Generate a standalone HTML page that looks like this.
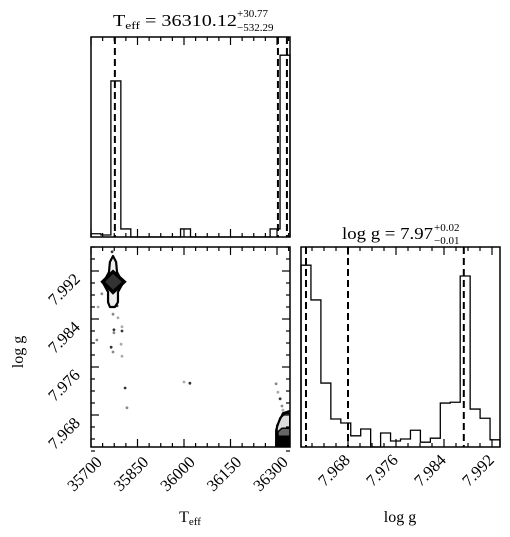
<!DOCTYPE html>
<html><head><meta charset="utf-8"><style>
html,body{margin:0;padding:0;background:#fff;}
svg{display:block;font-family:"Liberation Serif",serif;}
</style></head><body>
<svg id="fig" width="510" height="537" viewBox="0 0 510 537" xmlns="http://www.w3.org/2000/svg">
<g id="g-top"></g>
<g id="g-2d"></g>
<g id="g-br"></g>
<g>
<text x="113" y="26" font-size="16.5" textLength="124" lengthAdjust="spacingAndGlyphs">T<tspan font-size="11" dy="3">eff</tspan><tspan dy="-3"> = 36310.12</tspan></text>
<text x="237" y="17" font-size="11">+30.77</text>
<text x="237" y="31" font-size="11">−532.29</text>
</g>
<g>
<text x="342" y="239" font-size="16.5" textLength="91" lengthAdjust="spacingAndGlyphs">log g = 7.97</text>
<text x="434" y="231" font-size="11">+0.02</text>
<text x="434" y="244" font-size="11">−0.01</text>
</g>
<text x="190" y="522" text-anchor="middle" font-size="16">T<tspan font-size="11" dy="3">eff</tspan></text>
<text x="400" y="522" text-anchor="middle" font-size="16">log g</text>
<text transform="translate(23,352) rotate(-90)" text-anchor="middle" font-size="16">log g</text>
</svg>
<script>
// ---- data ----
const teffCounts = [0.4,0.25,19.4,1,0,0,0,0,0,1,0,0,0,0,0,0,0,0,1,22.6];
const loggCounts = [22.75,18.4,8,3.5,3,1.4,2.25,0,1.75,0.75,1,2.1,0.6,1.1,5.5,5.6,21.4,4.75,3.6,0.9];
const teffQuantiles = [35777,36303,36332];
const loggQuantiles = [7.961,7.968,7.9873];
const teffTicks = [35700,35850,36000,36150,36300];
const teffTickLabels = ["35700","35850","36000","36150","36300"];
const loggTicks = [7.968,7.976,7.984,7.992];
const loggTickLabels = ["7.968","7.976","7.984","7.992"];
const scatterTeff = [35768,35735,35723,35784,35771,35787,35774,35774,35800,35800,35719,35797,35765,35771,35800,35810,35816,36000,36019,36297,36303,36310,36316,36319];
const scatterLogg = [7.9952,7.9882,7.986,7.9862,7.9848,7.9842,7.9822,7.9817,7.9827,7.982,7.9805,7.9798,7.9793,7.9785,7.9778,7.9725,7.9692,7.9735,7.9733,7.9732,7.9718,7.9707,7.9695,7.9688];
const outerTeff = [35771,35781,35784,35803,35787,35787,35777,35761,35755,35755,35739,35758,35761];
const outerLogg = [7.9945,7.9935,7.9918,7.990,7.9885,7.9868,7.986,7.986,7.9868,7.9885,7.990,7.9918,7.9935];
const innerTeff = [35771,35803,35771,35742];
const innerLogg = [7.9917,7.9902,7.9887,7.9902];
const ringTeff = [35771,35810,35771,35735];
const ringLogg = [7.992,7.9902,7.9883,7.9902];
const cornerLightTeff = [36297,36297,36310,36326,36342,36342];
const cornerLightLogg = [7.9627,7.9655,7.9675,7.9683,7.9683,7.9627];
const cornerMidTeff = [36303,36303,36316,36342,36342];
const cornerMidLogg = [7.9627,7.9652,7.9658,7.9658,7.9627];
const cornerDarkTeff = [36300,36300,36342,36342];
const cornerDarkLogg = [7.9627,7.9645,7.9645,7.9627];
const cornerLineTeff = [36297,36300,36319,36342];
const cornerLineLogg = [7.9627,7.9662,7.9683,7.9687];

// ---- axes ----
const TEFF_MIN=35700, TEFF_MAX=36342, LGX_MIN=7.96017, LGX_MAX=7.99333;
const xT = v => 91 + (v-35700)*0.31;
const yG = v => 271 + (7.992-v)*6000;
const xG = v => 348 + (v-7.968)*6000;
const NS="http://www.w3.org/2000/svg";
function mk(parent,tag,attrs){const e=document.createElementNS(NS,tag);for(const k in attrs)e.setAttribute(k,attrs[k]);parent.appendChild(e);return e;}

const gTop=document.getElementById('g-top'), g2d=document.getElementById('g-2d'), gBr=document.getElementById('g-br');

function hist(g,counts,x0,x1,top,bottom){
  const ymax=Math.max(...counts)*1.1, n=counts.length, bw=(x1-x0)/n;
  let d='M'+x0+','+bottom;
  counts.forEach((c,i)=>{const y=bottom-c/ymax*(bottom-top);d+=' L'+(x0+i*bw)+','+y+' L'+(x0+(i+1)*bw)+','+y;});
  d+=' L'+x1+','+bottom;
  const p=mk(g,'path',{d:d,fill:'none',stroke:'#000','stroke-width':1.3});
  
  
}
function dashes(g,xs,top,bottom,name){
  xs.forEach(x=>{const l=mk(g,'line',{x1:x,x2:x,y1:top,y2:bottom,stroke:'#000','stroke-width':2,'stroke-dasharray':'7,4'});
  
  });
}
function frame(g,x0,y0,x1,y1,name){
  const r=mk(g,'rect',{x:x0,y:y0,width:x1-x0,height:y1-y0,fill:'none',stroke:'#000','stroke-width':1.5});
  
  
}
function xticks(g,fx,vals,majors,top,bottom){
  vals.forEach(v=>{const x=fx(v);const maj=majors.some(m=>Math.abs(m-v)<1e-6);const L=maj?8:4;
    mk(g,'line',{x1:x,x2:x,y1:bottom,y2:bottom-L,stroke:'#000','stroke-width':1.2});
    mk(g,'line',{x1:x,x2:x,y1:top,y2:top+L,stroke:'#000','stroke-width':1.2});});
}
function yticks(g,fy,vals,majors,left,right){
  vals.forEach(v=>{const y=fy(v);const maj=majors.some(m=>Math.abs(m-v)<1e-6);const L=maj?8:4;
    mk(g,'line',{x1:left,x2:left+L,y1:y,y2:y,stroke:'#000','stroke-width':1.2});
    mk(g,'line',{x1:right,x2:right-L,y1:y,y2:y,stroke:'#000','stroke-width':1.2});});
}
const teffMinor=[];for(let v=35700;v<=TEFF_MAX;v+=37.5)teffMinor.push(v);
const loggMinor=[];for(let v=7.962;v<=7.9961;v+=0.002)loggMinor.push(+v.toFixed(3));

// top histogram
hist(gTop,teffCounts,91,290,37,237);
dashes(gTop,teffQuantiles.map(xT),37,237,'teff-quantile-line');
xticks(gTop,xT,teffMinor,teffTicks,37,237);
frame(gTop,91,37,290,237,'teff-histogram-frame');

// 2D panel
function poly(g,tx,ly,attrs,name){
  const pts=tx.map((t,i)=>xT(t)+','+yG(ly[i])).join(' ');
  const p=mk(g,'polygon',Object.assign({points:pts},attrs));
  
  
}
const clip=mk(g2d,'clipPath',{id:'c2d'});mk(clip,'rect',{x:91,y:247,width:199,height:200});
const g2=mk(g2d,'g',{'clip-path':'url(#c2d)'});
scatterTeff.forEach((t,i)=>{const c=mk(g2,'circle',{cx:xT(t),cy:yG(scatterLogg[i]),r:1.4,fill:i%3===0?'#333':(i%3===1?'#888':'#aaa')});
  
  });
poly(g2,outerTeff,outerLogg,{fill:'#eee',stroke:'#000','stroke-width':2.2,'stroke-linejoin':'round'},'outer-contour');
poly(g2,ringTeff,ringLogg,{fill:'#fff',stroke:'#000','stroke-width':2.2},'middle-contour');
poly(g2,innerTeff,innerLogg,{fill:'#333',stroke:'#000','stroke-width':1.5},'inner-contour');
poly(g2,cornerLightTeff,cornerLightLogg,{fill:'#ddd',stroke:'#000','stroke-width':2},'corner-contour-outer');
poly(g2,cornerMidTeff,cornerMidLogg,{fill:'#666',stroke:'#000','stroke-width':1.5},'corner-contour-mid');
poly(g2,cornerDarkTeff,cornerDarkLogg,{fill:'#000',stroke:'#000','stroke-width':1},'corner-contour-core');
{const l=mk(g2,'polyline',{points:cornerLineTeff.map((t,i)=>xT(t)+','+yG(cornerLineLogg[i])).join(' '),fill:'none',stroke:'#000','stroke-width':2});

}
xticks(g2d,xT,teffMinor,teffTicks,247,447);
yticks(g2d,yG,loggMinor,loggTicks,91,290);
frame(g2d,91,247,290,447,'density-frame');
teffTicks.forEach((v,i)=>{const x=xT(v)+12,y=463;const t=mk(g2d,'text',{x:x,y:y,'text-anchor':'end','font-size':16.5,transform:'rotate(-45 '+x+' '+y+')'});t.textContent=teffTickLabels[i];
  
  });
loggTicks.forEach((v,i)=>{const x=81,y=yG(v)+9;const t=mk(g2d,'text',{x:x,y:y,'text-anchor':'end','font-size':16.5,transform:'rotate(-45 '+x+' '+y+')'});t.textContent=loggTickLabels[i];
  
  });

// bottom-right histogram
hist(gBr,loggCounts,301,500,247,447);
dashes(gBr,loggQuantiles.map(xG),247,447,'logg-quantile-line');
xticks(gBr,xG,loggMinor.filter(v=>v>=LGX_MIN&&v<=LGX_MAX),loggTicks,247,447);
frame(gBr,301,247,500,447,'logg-histogram-frame');
loggTicks.forEach((v,i)=>{const x=xG(v)+3,y=461;const t=mk(gBr,'text',{x:x,y:y,'text-anchor':'end','font-size':16.5,transform:'rotate(-45 '+x+' '+y+')'});t.textContent=loggTickLabels[i];
  
  });
</script>
</body></html>
